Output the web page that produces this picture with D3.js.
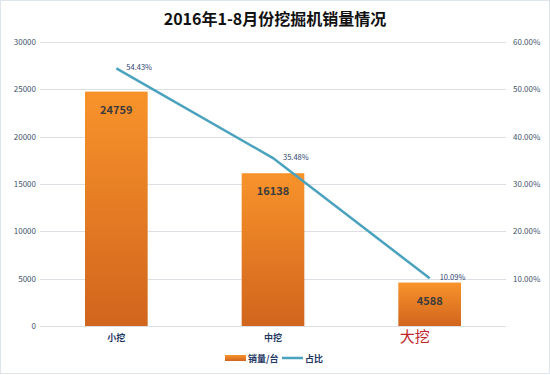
<!DOCTYPE html>
<html>
<head>
<meta charset="utf-8">
<script src="https://cdn.jsdelivr.net/npm/d3@7"></script>
<style>
  body { margin: 0; background: #fff; }
  text { font-family: "Noto Sans CJK SC", "Noto Sans", sans-serif; }
</style>
</head>
<body>
<svg id="chart"></svg>
<script>
let categories = ['小挖', '中挖', '大挖']
let sales = [24759, 16138, 4588]
let share = [54.43, 35.48, 10.09]
let leftTicks = [0, 5000, 10000, 15000, 20000, 25000, 30000]
let rightTicks = [0, 10, 20, 30, 40, 50, 60]

let W = 550, H = 375
let m = {top: 42, left: 38, right: 42, bottom: 49}

let svg = d3.select('#chart').attr('width', W).attr('height', H)

// outer frame
svg.append('rect')
    .attr('x', 0.5).attr('y', 0.5)
    .attr('width', W - 1).attr('height', H - 2)
    .attr('fill', '#fff').attr('stroke', '#dfe5ec')

let xScale = d3.scaleBand().domain(categories)
    .range([m.left, W - m.right])
    .paddingInner(0.6).paddingOuter(0.3)
let yScale = d3.scaleLinear().domain([0, 30000]).range([H - m.bottom, m.top])
let y2Scale = d3.scaleLinear().domain([0, 60]).range([H - m.bottom, m.top])

let defs = svg.append('defs')
let grad = defs.append('linearGradient').attr('id', 'barGrad')
    .attr('x1', 0).attr('y1', 0).attr('x2', 0).attr('y2', 1)
grad.append('stop').attr('offset', '0%').attr('stop-color', '#f8932b')
grad.append('stop').attr('offset', '100%').attr('stop-color', '#d1651d')

// gridlines
svg.append('g').selectAll('line')
    .data(leftTicks)
    .enter().append('line')
    .attr('x1', m.left + 2).attr('x2', W - m.right - 2)
    .attr('y1', d => Math.round(yScale(d)) + 0.5)
    .attr('y2', d => Math.round(yScale(d)) + 0.5)
    .attr('stroke', '#dcdfe3')

// left axis
let yAxis = d3.axisLeft(yScale).tickValues(leftTicks).tickSize(0).tickPadding(0)
    .tickFormat(d3.format('d'))
svg.append('g')
    .attr('transform', `translate(${m.left - 2}, 0)`)
    .call(yAxis)
    .call(g => g.select('.domain').remove())
    .selectAll('text')
    .attr('fill', '#44546a').attr('font-size', 8)

// right axis
let y2Axis = d3.axisRight(y2Scale).tickValues(rightTicks).tickSize(0).tickPadding(0)
    .tickFormat(d => d.toFixed(2) + '%')
svg.append('g')
    .attr('transform', `translate(${W - m.right + 5}, 0)`)
    .call(y2Axis)
    .call(g => g.select('.domain').remove())
    .selectAll('text')
    .attr('fill', '#44546a').attr('font-size', 8)
    .attr('display', d => d === 0 ? 'none' : null)

// bars
svg.selectAll('.bar')
    .data(categories)
    .enter().append('rect')
    .attr('class', 'bar')
    .attr('x', d => xScale(d))
    .attr('width', xScale.bandwidth())
    .attr('y', (d, i) => yScale(sales[i]))
    .attr('height', (d, i) => yScale(0) - yScale(sales[i]))
    .attr('fill', 'url(#barGrad)')

// bar value labels
svg.selectAll('.val')
    .data(categories)
    .enter().append('text')
    .attr('class', 'val')
    .attr('x', d => xScale(d) + xScale.bandwidth() / 2)
    .attr('y', (d, i) => yScale(sales[i]) + 22)
    .attr('text-anchor', 'middle')
    .attr('font-size', 11).attr('font-weight', 'bold')
    .attr('fill', '#3b3b3b')
    .text((d, i) => sales[i])

// share line
let line = d3.line()
    .x(d => xScale(d) + xScale.bandwidth() / 2)
    .y((d, i) => y2Scale(share[i]))
svg.append('path')
    .datum(categories)
    .attr('d', line)
    .attr('fill', 'none')
    .attr('stroke', '#4aa2bf')
    .attr('stroke-width', 2.5)

svg.selectAll('.pct')
    .data(categories)
    .enter().append('text')
    .attr('class', 'pct')
    .attr('x', d => xScale(d) + xScale.bandwidth() / 2 + 10)
    .attr('y', (d, i) => y2Scale(share[i]) + 2)
    .attr('font-size', 7.5)
    .attr('fill', '#2f4470')
    .text((d, i) => share[i].toFixed(2) + '%')

// category labels
svg.selectAll('.cat')
    .data(categories)
    .enter().append('text')
    .attr('class', 'cat')
    .attr('x', d => xScale(d) + xScale.bandwidth() / 2)
    .attr('y', (d, i) => i === 2 ? H - m.bottom + 16 : H - m.bottom + 15)
    .attr('text-anchor', 'middle')
    .attr('font-size', (d, i) => i === 2 ? 15 : 9)
    .attr('font-weight', (d, i) => i === 2 ? 'normal' : 'bold')
    .attr('fill', (d, i) => i === 2 ? '#c0262b' : '#1f3864')
    .attr('dx', (d, i) => i === 2 ? -15 : 0)
    .text(d => d)

// title
svg.append('text')
    .attr('x', W / 2).attr('y', 25)
    .attr('text-anchor', 'middle')
    .attr('font-size', 16).attr('font-weight', 'bold')
    .attr('fill', '#111')
    .text('2016年1-8月份挖掘机销量情况')

// legend
let lg = svg.append('g').attr('transform', 'translate(225, 358)')
lg.append('rect').attr('x', 0).attr('y', -3).attr('width', 21).attr('height', 6)
    .attr('fill', 'url(#barGrad)')
lg.append('text').attr('x', 23).attr('y', 3.5)
    .attr('font-size', 9).attr('font-weight', 'bold').attr('fill', '#1f3864')
    .text('销量/台')
lg.append('line').attr('x1', 57).attr('x2', 78).attr('y1', 0).attr('y2', 0)
    .attr('stroke', '#4aa2bf').attr('stroke-width', 2.5)
lg.append('text').attr('x', 80).attr('y', 3.5)
    .attr('font-size', 9).attr('font-weight', 'bold').attr('fill', '#1f3864')
    .text('占比')
</script>
</body>
</html>
